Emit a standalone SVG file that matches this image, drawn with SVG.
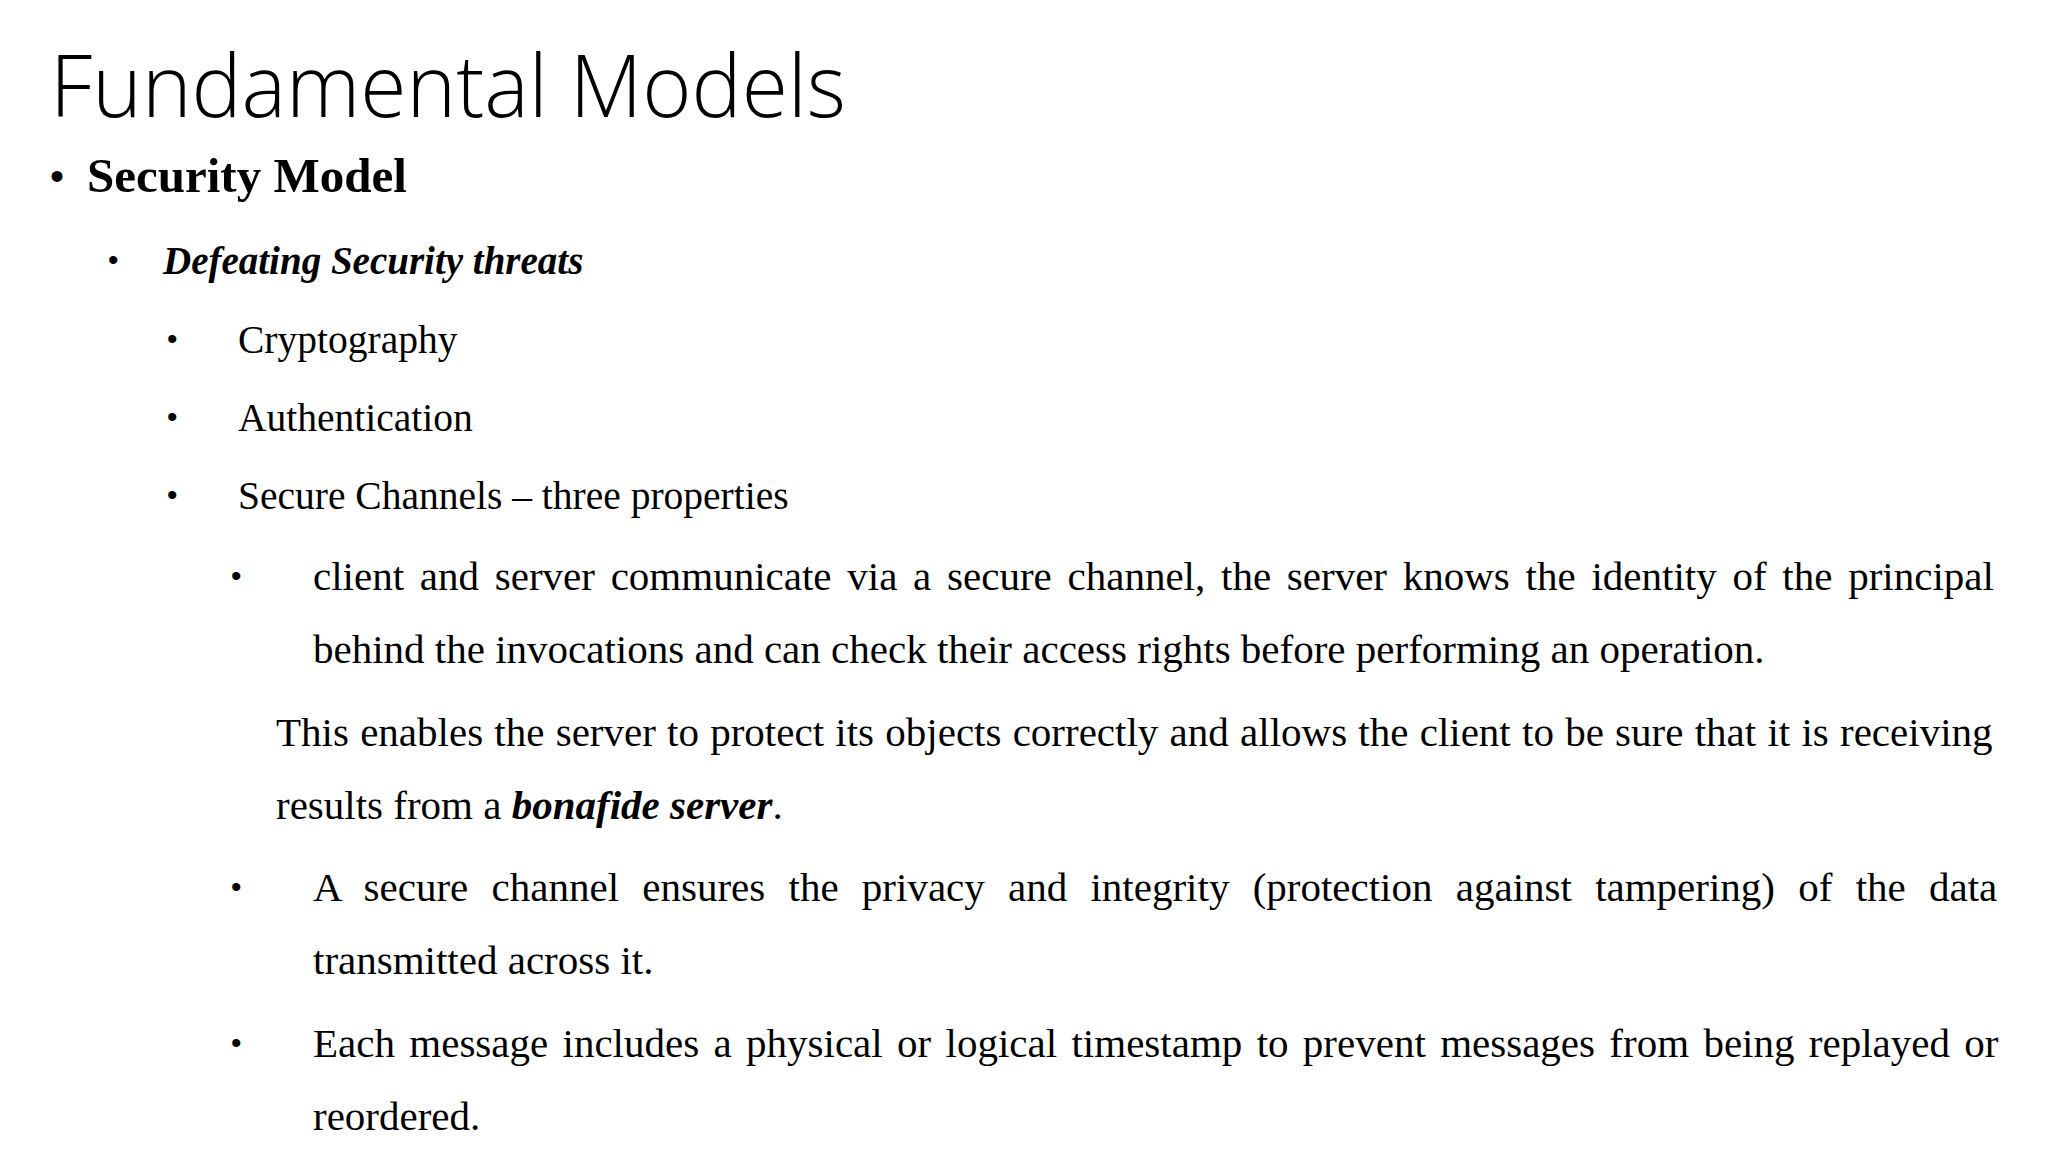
<svg xmlns="http://www.w3.org/2000/svg" width="2048" height="1152" viewBox="0 0 2048 1152">
<style>
.t{font-family:"Liberation Serif","Times New Roman",serif;font-size:41px;fill:#000}
.s{font-size:39.5px}
.b{font-family:"Liberation Sans",Arial,sans-serif;fill:#000}
</style>
<rect width="2048" height="1152" fill="#fff"/>
<text x="50" y="117" font-family="Open Sans, sans-serif" font-weight="300" font-size="86" textLength="796" lengthAdjust="spacingAndGlyphs">Fundamental Models</text>
<text class="b" x="50" y="190" font-size="40">•</text>
<text x="87" y="192" font-family="Liberation Serif, serif" font-weight="bold" font-size="49">Security Model</text>
<text class="b" x="108" y="270" font-size="30">•</text>
<text x="163" y="274" font-family="Liberation Serif, serif" font-weight="bold" font-style="italic" font-size="39">Defeating Security threats</text>
<text class="b" x="167" y="349" font-size="30">•</text>
<text class="t s" x="238" y="353">Cryptography</text>
<text class="b" x="167" y="427" font-size="30">•</text>
<text class="t s" x="238" y="431">Authentication</text>
<text class="b" x="167" y="505" font-size="30">•</text>
<text class="t s" x="238" y="509">Secure Channels – three properties</text>
<text class="b" x="231" y="586" font-size="30">•</text>
<text class="t" x="313" y="590" word-spacing="5.5">client and server communicate via a secure channel, the server knows the identity of the principal</text>
<text class="t" x="313" y="663">behind the invocations and can check their access rights before performing an operation.</text>
<text class="t" x="276" y="746" word-spacing="1">This enables the server to protect its objects correctly and allows the client to be sure that it is receiving</text>
<text class="t" x="276" y="819">results from a <tspan font-weight="bold" font-style="italic">bonafide server</tspan>.</text>
<text class="b" x="231" y="897" font-size="30">•</text>
<text class="t" x="313" y="901" word-spacing="13">A secure channel ensures the privacy and integrity (protection against tampering) of the data</text>
<text class="t" x="313" y="974">transmitted across it.</text>
<text class="b" x="231" y="1053" font-size="30">•</text>
<text class="t" x="313" y="1057" word-spacing="4.1">Each message includes a physical or logical timestamp to prevent messages from being replayed or</text>
<text class="t" x="313" y="1130">reordered.</text>
</svg>
